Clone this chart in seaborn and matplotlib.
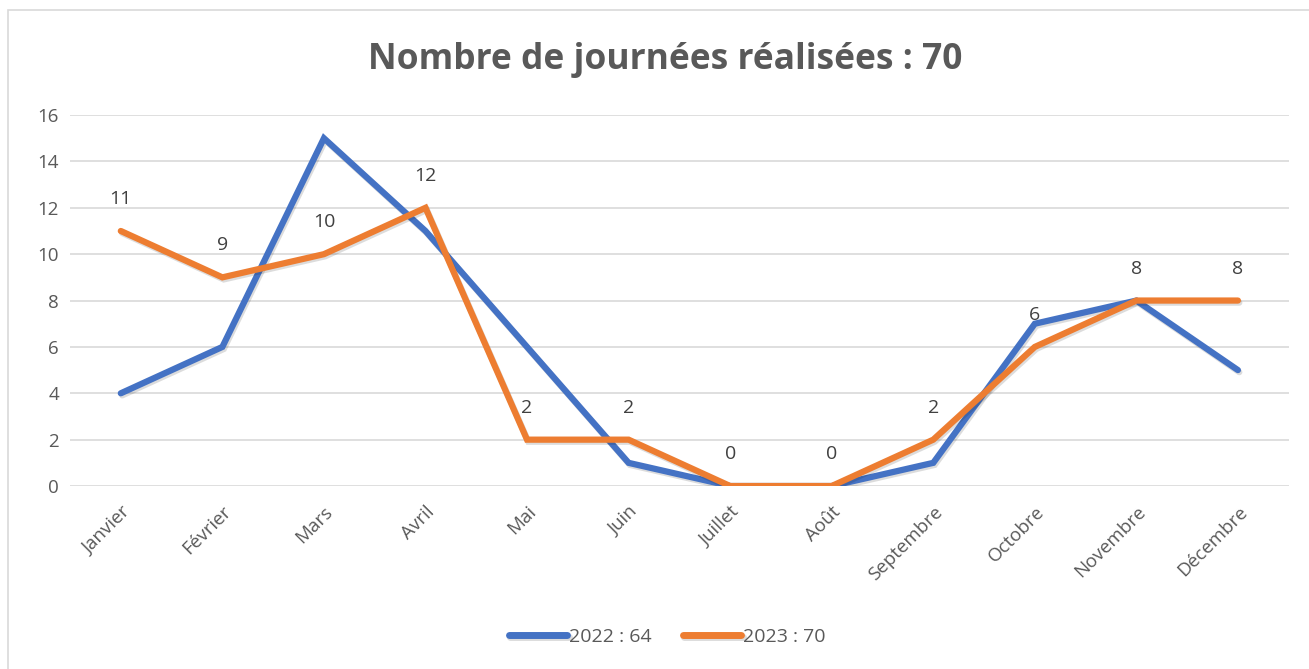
import pandas as pd
import matplotlib
matplotlib.use("Agg")
import matplotlib.pyplot as plt
import matplotlib.patheffects as pe
import seaborn as sns

mois = ["Janvier", "Février", "Mars", "Avril", "Mai", "Juin", "Juillet",
        "Août", "Septembre", "Octobre", "Novembre", "Décembre"]
val_2022 = [4, 6, 15, 11, 6, 1, 0, 0, 1, 7, 8, 5]
val_2023 = [11, 9, 10, 12, 2, 2, 0, 0, 2, 6, 8, 8]
series = ["2022 : 64", "2023 : 70"]
titre = "Nombre de journées réalisées : 70"

table = pd.DataFrame({
    "Mois": mois * 2,
    "Journees": val_2022 + val_2023,
    "Annee": [series[0]] * 12 + [series[1]] * 12,
})
table["pos"] = list(range(12)) * 2

sns.set_theme(style="white")
plt.rcParams["font.family"] = ["Open Sans", "DejaVu Sans"]

fig = plt.figure(figsize=(13.09, 6.69), dpi=100)
ax = fig.add_axes([0.0535, 0.2735, 0.931, 0.5545])

shadow = [pe.SimpleLineShadow(offset=(1, -1.5), alpha=0.15), pe.Normal()]
sns.lineplot(data=table, x="pos", y="Journees", hue="Annee",
             palette=["#4472C4", "#ED7D31"], linewidth=4.5, ax=ax,
             legend=True)
for ln in ax.get_lines():
    ln.set_path_effects(shadow)
    ln.set_solid_joinstyle("miter")

# labels de données (2023)
for i, v in enumerate(val_2023):
    ax.annotate(str(v), (i, v), xytext=(0, 23), textcoords="offset points",
                ha="center", va="center", fontsize=14, color="#404040")

ax.set_xlim(-0.5, 11.5)
ax.set_ylim(0, 16)
ax.set_yticks(range(0, 17, 2))
ax.set_xticks(range(12))
ax.set_xticklabels(mois, rotation=45, ha="right", rotation_mode="anchor")
ax.tick_params(axis="both", labelsize=13.5, colors="#595959", length=0, pad=8)
ax.tick_params(axis="x", pad=12)
ax.yaxis.grid(True, color="#d9d9d9", linewidth=1.2)
ax.set_axisbelow(True)
for s in ax.spines.values():
    s.set_visible(False)
ax.set_xlabel("")
ax.set_ylabel("")

fig.text(0.508, 0.91, titre, ha="center", va="center", fontsize=25.5,
         fontweight="bold", color="#595959")

leg = ax.legend(loc="center", bbox_to_anchor=(0.49, -0.407), ncol=2,
                frameon=False, fontsize=14, handlelength=3.0,
                columnspacing=1.6, handletextpad=0.1)
for t in leg.get_texts():
    t.set_color("#595959")
for h in leg.legend_handles:
    h.set_linewidth(5)
    h.set_solid_capstyle("round")

# cadre du graphique
fig.patches.append(plt.Rectangle((8 / 1309, -0.1), 2, 1.0 - 10 / 669 + 0.1,
                                 transform=fig.transFigure, fill=False,
                                 edgecolor="#d9d9d9", linewidth=1.2))

fig.savefig("out.png", dpi=100)
